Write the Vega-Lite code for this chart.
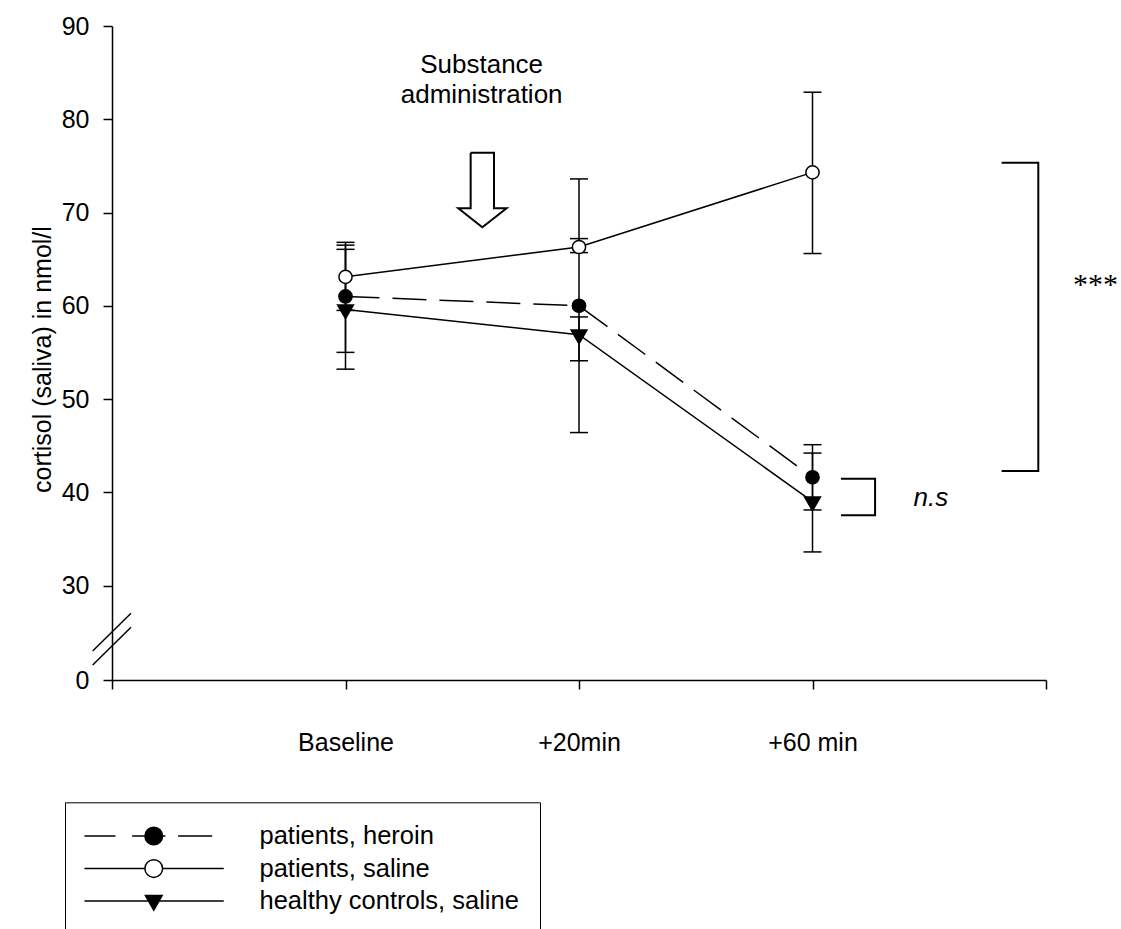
{
  "$schema": "https://vega.github.io/schema/vega-lite/v6.json",
  "width": 934,
  "height": 654,
  "autosize": {"type": "none"},
  "padding": {"left": 112, "top": 26, "right": 75, "bottom": 249},
  "background": "white",
  "config": {
    "view": {"stroke": null},
    "font": "Liberation Sans",
    "axis": {
      "grid": false,
      "domainColor": "black",
      "domainWidth": 1.5,
      "tickColor": "black",
      "tickWidth": 1.5,
      "tickSize": 9,
      "labelFont": "Liberation Sans",
      "labelFontSize": 25,
      "labelColor": "black",
      "titleFont": "Liberation Sans",
      "titleFontSize": 25,
      "titleFontWeight": "normal",
      "titleColor": "black"
    }
  },
  "datasets": {
    "pts": [
      {"series": "patients, heroin", "time": "Baseline", "t": 1, "mean": 61.0, "lo": 55.0, "hi": 66.8},
      {"series": "patients, heroin", "time": "+20min", "t": 2, "mean": 60.0, "lo": 46.4, "hi": 73.6},
      {"series": "patients, heroin", "time": "+60 min", "t": 3, "mean": 41.6, "lo": 38.1, "hi": 45.1},
      {"series": "patients, saline", "time": "Baseline", "t": 1, "mean": 63.1, "lo": 59.5, "hi": 66.5},
      {"series": "patients, saline", "time": "+20min", "t": 2, "mean": 66.3, "lo": 65.7, "hi": 67.2},
      {"series": "patients, saline", "time": "+60 min", "t": 3, "mean": 74.3, "lo": 65.6, "hi": 82.9},
      {"series": "healthy controls, saline", "time": "Baseline", "t": 1, "mean": 59.6, "lo": 53.2, "hi": 66.05},
      {"series": "healthy controls, saline", "time": "+20min", "t": 2, "mean": 56.9, "lo": 54.1, "hi": 58.8},
      {"series": "healthy controls, saline", "time": "+60 min", "t": 3, "mean": 39.0, "lo": 33.6, "hi": 44.2}
    ],
    "arrow": [
      {"i": 0, "x": 1.536, "y": 76.41},
      {"i": 1, "x": 1.636, "y": 76.41},
      {"i": 2, "x": 1.636, "y": 70.45},
      {"i": 3, "x": 1.690, "y": 70.45},
      {"i": 4, "x": 1.586, "y": 68.41},
      {"i": 5, "x": 1.483, "y": 70.45},
      {"i": 6, "x": 1.536, "y": 70.45},
      {"i": 7, "x": 1.536, "y": 76.41}
    ],
    "brackets": [
      {"b": "all", "i": 0, "x": 3.810, "y": 75.34},
      {"b": "all", "i": 1, "x": 3.967, "y": 75.34},
      {"b": "all", "i": 2, "x": 3.967, "y": 42.28},
      {"b": "all", "i": 3, "x": 3.810, "y": 42.28},
      {"b": "ns", "i": 0, "x": 3.122, "y": 41.45},
      {"b": "ns", "i": 1, "x": 3.268, "y": 41.45},
      {"b": "ns", "i": 2, "x": 3.268, "y": 37.53},
      {"b": "ns", "i": 3, "x": 3.122, "y": 37.53}
    ],
    "breaks": [
      {"x": -0.0827, "y": 4.76, "x2": 0.0814, "y2": 16.73},
      {"x": -0.0827, "y": 9.21, "x2": 0.0814, "y2": 21.17}
    ],
    "notes": [
      {"kind": "admin", "x": 1.583, "y": 85.0, "label": "Substance\nadministration"},
      {"kind": "sig", "x": 4.212, "y": 61.26, "label": "***"},
      {"kind": "ns", "x": 3.507, "y": 38.53, "label": "n.s"}
    ]
  },
  "layer": [
    {
      "data": {"name": "pts"},
      "mark": {"type": "rule", "color": "black", "strokeWidth": 1.5},
      "encoding": {
        "x": {"field": "t", "type": "quantitative", "title": null, "scale": {"domain": [0, 4], "nice": false, "zero": false},
          "axis": {"values": [0, 1, 2, 3, 4], "title": null, "labelExpr": "datum.value == 1 ? 'Baseline' : datum.value == 2 ? '+20min' : datum.value == 3 ? '+60 min' : ''", "labelPadding": 41, "labelFlush": false, "labelOverlap": false}},
        "y": {"field": "lo", "type": "quantitative", "title": "cortisol (saliva) in nmol/l", "scale": {"domain": [0, 30, 90], "range": [654, 559.5, 0], "nice": false, "zero": false},
          "axis": {"values": [0, 30, 40, 50, 60, 70, 80, 90], "title": "cortisol (saliva) in nmol/l", "titleAngle": 270, "titleX": -62, "titleY": 333, "titleBaseline": "alphabetic", "titleAlign": "center", "labelPadding": 14, "labelFlush": false, "labelOverlap": false}},
        "y2": {"field": "hi"}
      }
    },
    {
      "data": {"name": "pts"},
      "mark": {"type": "tick", "orient": "horizontal", "size": 18, "thickness": 1.5, "color": "black", "opacity": 1},
      "encoding": {
        "x": {"field": "t", "type": "quantitative", "title": null, "scale": {"domain": [0, 4], "nice": false, "zero": false}},
        "y": {"field": "lo", "type": "quantitative", "title": "cortisol (saliva) in nmol/l", "scale": {"domain": [0, 30, 90], "range": [654, 559.5, 0], "nice": false, "zero": false}}
      }
    },
    {
      "data": {"name": "pts"},
      "mark": {"type": "tick", "orient": "horizontal", "size": 18, "thickness": 1.5, "color": "black", "opacity": 1},
      "encoding": {
        "x": {"field": "t", "type": "quantitative", "title": null, "scale": {"domain": [0, 4], "nice": false, "zero": false}},
        "y": {"field": "hi", "type": "quantitative", "title": "cortisol (saliva) in nmol/l", "scale": {"domain": [0, 30, 90], "range": [654, 559.5, 0], "nice": false, "zero": false}}
      }
    },
    {
      "data": {"name": "pts"},
      "transform": [{"filter": "datum.series !== 'patients, heroin'"}],
      "mark": {"type": "line", "color": "black", "strokeWidth": 1.5},
      "encoding": {
        "x": {"field": "t", "type": "quantitative", "title": null, "scale": {"domain": [0, 4], "nice": false, "zero": false}},
        "y": {"field": "mean", "type": "quantitative", "title": "cortisol (saliva) in nmol/l", "scale": {"domain": [0, 30, 90], "range": [654, 559.5, 0], "nice": false, "zero": false}},
        "detail": {"field": "series"}
      }
    },
    {
      "data": {"name": "pts"},
      "transform": [{"filter": "datum.series === 'patients, heroin'"}],
      "mark": {"type": "line", "color": "black", "strokeWidth": 1.5, "strokeDash": [34, 13]},
      "encoding": {
        "x": {"field": "t", "type": "quantitative", "title": null, "scale": {"domain": [0, 4], "nice": false, "zero": false}},
        "y": {"field": "mean", "type": "quantitative", "title": "cortisol (saliva) in nmol/l", "scale": {"domain": [0, 30, 90], "range": [654, 559.5, 0], "nice": false, "zero": false}}
      }
    },
    {
      "data": {"name": "pts"},
      "mark": {"type": "point", "filled": true, "stroke": "black", "strokeWidth": 1.5, "opacity": 1},
      "encoding": {
        "x": {"field": "t", "type": "quantitative", "title": null, "scale": {"domain": [0, 4], "nice": false, "zero": false}},
        "y": {"field": "mean", "type": "quantitative", "title": "cortisol (saliva) in nmol/l", "scale": {"domain": [0, 30, 90], "range": [654, 559.5, 0], "nice": false, "zero": false}},
        "shape": {"condition": {"test": "datum.series === 'healthy controls, saline'", "value": "M-1,-0.577L1,-0.577L0,1.155Z"}, "value": "circle"},
        "size": {"condition": {"test": "datum.series === 'healthy controls, saline'", "value": 250}, "value": 175},
        "fill": {"condition": {"test": "datum.series === 'patients, saline'", "value": "white"}, "value": "black"}
      }
    },
    {
      "data": {"name": "arrow"},
      "mark": {"type": "line", "color": "black", "strokeWidth": 2, "strokeJoin": "miter"},
      "encoding": {
        "x": {"field": "x", "type": "quantitative", "title": null, "scale": {"domain": [0, 4], "nice": false, "zero": false}},
        "y": {"field": "y", "type": "quantitative", "title": "cortisol (saliva) in nmol/l", "scale": {"domain": [0, 30, 90], "range": [654, 559.5, 0], "nice": false, "zero": false}},
        "order": {"field": "i", "type": "quantitative"}
      }
    },
    {
      "data": {"name": "brackets"},
      "mark": {"type": "line", "color": "black", "strokeWidth": 2, "strokeJoin": "miter"},
      "encoding": {
        "x": {"field": "x", "type": "quantitative", "title": null, "scale": {"domain": [0, 4], "nice": false, "zero": false}},
        "y": {"field": "y", "type": "quantitative", "title": "cortisol (saliva) in nmol/l", "scale": {"domain": [0, 30, 90], "range": [654, 559.5, 0], "nice": false, "zero": false}},
        "detail": {"field": "b"},
        "order": {"field": "i", "type": "quantitative"}
      }
    },
    {
      "data": {"name": "breaks"},
      "mark": {"type": "rule", "color": "black", "strokeWidth": 1.5},
      "encoding": {
        "x": {"field": "x", "type": "quantitative", "title": null, "scale": {"domain": [0, 4], "nice": false, "zero": false}},
        "y": {"field": "y", "type": "quantitative", "title": "cortisol (saliva) in nmol/l", "scale": {"domain": [0, 30, 90], "range": [654, 559.5, 0], "nice": false, "zero": false}},
        "x2": {"field": "x2"},
        "y2": {"field": "y2"}
      }
    },
    {
      "data": {"name": "notes"},
      "transform": [{"filter": "datum.kind === 'admin'"}],
      "mark": {"type": "text", "font": "Liberation Sans", "fontSize": 26, "align": "center", "baseline": "alphabetic", "lineBreak": "\n", "lineHeight": 30, "color": "black"},
      "encoding": {
        "x": {"field": "x", "type": "quantitative", "title": null, "scale": {"domain": [0, 4], "nice": false, "zero": false}},
        "y": {"field": "y", "type": "quantitative", "title": "cortisol (saliva) in nmol/l", "scale": {"domain": [0, 30, 90], "range": [654, 559.5, 0], "nice": false, "zero": false}},
        "text": {"field": "label"}
      }
    },
    {
      "data": {"name": "notes"},
      "transform": [{"filter": "datum.kind === 'sig'"}],
      "mark": {"type": "text", "font": "Liberation Serif", "fontSize": 30, "align": "center", "baseline": "alphabetic", "color": "black"},
      "encoding": {
        "x": {"field": "x", "type": "quantitative", "title": null, "scale": {"domain": [0, 4], "nice": false, "zero": false}},
        "y": {"field": "y", "type": "quantitative", "title": "cortisol (saliva) in nmol/l", "scale": {"domain": [0, 30, 90], "range": [654, 559.5, 0], "nice": false, "zero": false}},
        "text": {"field": "label"}
      }
    },
    {
      "data": {"name": "notes"},
      "transform": [{"filter": "datum.kind === 'ns'"}],
      "mark": {"type": "text", "font": "Liberation Sans", "fontSize": 26, "fontStyle": "italic", "align": "center", "baseline": "alphabetic", "color": "black"},
      "encoding": {
        "x": {"field": "x", "type": "quantitative", "title": null, "scale": {"domain": [0, 4], "nice": false, "zero": false}},
        "y": {"field": "y", "type": "quantitative", "title": "cortisol (saliva) in nmol/l", "scale": {"domain": [0, 30, 90], "range": [654, 559.5, 0], "nice": false, "zero": false}},
        "text": {"field": "label"}
      }
    },
    {
      "data": {"name": "pts"},
      "transform": [{"filter": "datum.t > 100"}],
      "mark": {"type": "point", "filled": true, "stroke": "black", "strokeWidth": 1.5, "opacity": 1},
      "encoding": {
        "x": {"field": "t", "type": "quantitative", "title": null, "scale": {"domain": [0, 4], "nice": false, "zero": false}},
        "y": {"field": "mean", "type": "quantitative", "title": "cortisol (saliva) in nmol/l", "scale": {"domain": [0, 30, 90], "range": [654, 559.5, 0], "nice": false, "zero": false}},
        "fill": {"field": "series", "type": "nominal",
          "scale": {"domain": ["patients, heroin", "patients, saline", "healthy controls, saline"], "range": ["black", "white", "black"]},
          "legend": {"title": null, "orient": "none", "legendX": -47, "legendY": 776.3, "padding": 21, "strokeColor": "black", "cornerRadius": 0, "fillColor": "white",
            "symbolSize": 400, "symbolStrokeWidth": 1.5, "symbolStrokeColor": "black", "symbolOpacity": 1, "symbolOffset": 55, "labelOffset": 93,
            "labelFont": "Liberation Sans", "labelFontSize": 25.5, "labelColor": "black", "labelLimit": 600, "rowPadding": 5.5,
            "encoding": {"symbols": {"stroke": {"value": "black"}, "strokeWidth": {"value": 1.5}, "opacity": {"value": 1}, "fillOpacity": {"value": 1}, "strokeOpacity": {"value": 1}}}}},
        "shape": {"field": "series", "type": "nominal",
          "scale": {"domain": ["patients, heroin", "patients, saline", "healthy controls, saline"],
            "range": [
              "M-6.93,0H-3.83M-2.16,0H1.17M2.44,0H5.84M0.88,0A0.88,0.88 0 1,1 -0.88,0A0.88,0.88 0 1,1 0.88,0Z",
              "M-6.93,0H-0.885M0.885,0H7M0.885,0A0.885,0.885 0 1,1 -0.885,0A0.885,0.885 0 1,1 0.885,0Z",
              "M-6.93,0H7M-0.835,-0.55L0.835,-0.55L0,0.92Z"
            ]},
          "legend": {"title": null, "orient": "none", "legendX": -47, "legendY": 776.3, "padding": 21, "strokeColor": "black", "cornerRadius": 0, "fillColor": "white",
            "symbolSize": 400, "symbolStrokeWidth": 1.5, "symbolStrokeColor": "black", "symbolOpacity": 1, "symbolOffset": 55, "labelOffset": 93,
            "labelFont": "Liberation Sans", "labelFontSize": 25.5, "labelColor": "black", "labelLimit": 600, "rowPadding": 5.5,
            "encoding": {"symbols": {"stroke": {"value": "black"}, "strokeWidth": {"value": 1.5}, "opacity": {"value": 1}, "fillOpacity": {"value": 1}, "strokeOpacity": {"value": 1}}}}}
      }
    }
  ]
}
